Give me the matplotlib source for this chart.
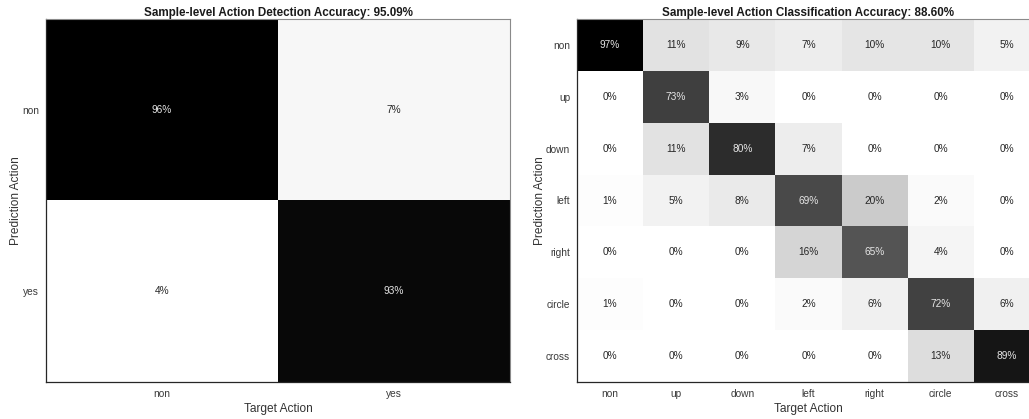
import numpy as np
import matplotlib
matplotlib.use("Agg")
import matplotlib.pyplot as plt

plt.rcParams['font.family'] = ['Liberation Sans', 'DejaVu Sans']

det_labels = ["non", "yes"]
det_values = [[96, 7],
              [4, 93]]
det_title = "Sample-level Action Detection Accuracy: 95.09%"

cls_labels = ["non", "up", "down", "left", "right", "circle", "cross"]
cls_values = [[97, 11, 9, 7, 10, 10, 5],
              [0, 73, 3, 0, 0, 0, 0],
              [0, 11, 80, 7, 0, 0, 0],
              [1, 5, 8, 69, 20, 2, 0],
              [0, 0, 0, 16, 65, 4, 0],
              [1, 0, 0, 2, 6, 72, 6],
              [0, 0, 0, 0, 0, 13, 89]]
cls_title = "Sample-level Action Classification Accuracy: 88.60%"

fig = plt.figure(figsize=(10.29, 4.19), dpi=100)
W, H = 1029, 419
ax1 = fig.add_axes([46 / W, 1 - 382 / H, 464 / W, 363 / H])
ax2 = fig.add_axes([577 / W, 1 - 382 / H, 463 / W, 363 / H])


def draw(ax, labels, values, title):
    v = np.array(values, dtype=float)
    n = len(labels)
    vmax = v.max()
    vmin = v.min()
    ax.pcolormesh(np.arange(n + 1), np.arange(n + 1), v, cmap='gray_r',
                  vmin=vmin, vmax=vmax)
    ax.set_xlim(0, n)
    ax.set_ylim(n, 0)
    for i in range(n):
        for j in range(n):
            col = '#e6e6e6' if v[i, j] > 0.5 * vmax else '#262626'
            ax.text(j + 0.5, i + 0.5, f"{int(v[i, j])}%", ha='center',
                    va='center', fontsize=7.3, color=col)
    ax.set_xticks(np.arange(n) + 0.5)
    ax.set_xticklabels(labels)
    ax.set_yticks(np.arange(n) + 0.5)
    ax.set_yticklabels(labels)
    ax.tick_params(length=0, labelsize=7.3, colors='#3a3a3a', pad=5)
    ax.set_xlabel("Target Action", fontsize=8.6, color='#333333', labelpad=3)
    ax.set_ylabel("Prediction Action", fontsize=8.6, color='#333333', labelpad=0)
    ax.set_title(title, fontsize=8.4, fontweight='bold', color='#1a1a1a', pad=2)
    for s in ['left', 'bottom']:
        ax.spines[s].set_color('#262626')
        ax.spines[s].set_linewidth(0.9)
    for s in ['top', 'right']:
        ax.spines[s].set_color('#8a8a8a')
        ax.spines[s].set_linewidth(0.8)


draw(ax1, det_labels, det_values, det_title)
draw(ax2, cls_labels, cls_values, cls_title)

fig.savefig("out.png", dpi=100)
